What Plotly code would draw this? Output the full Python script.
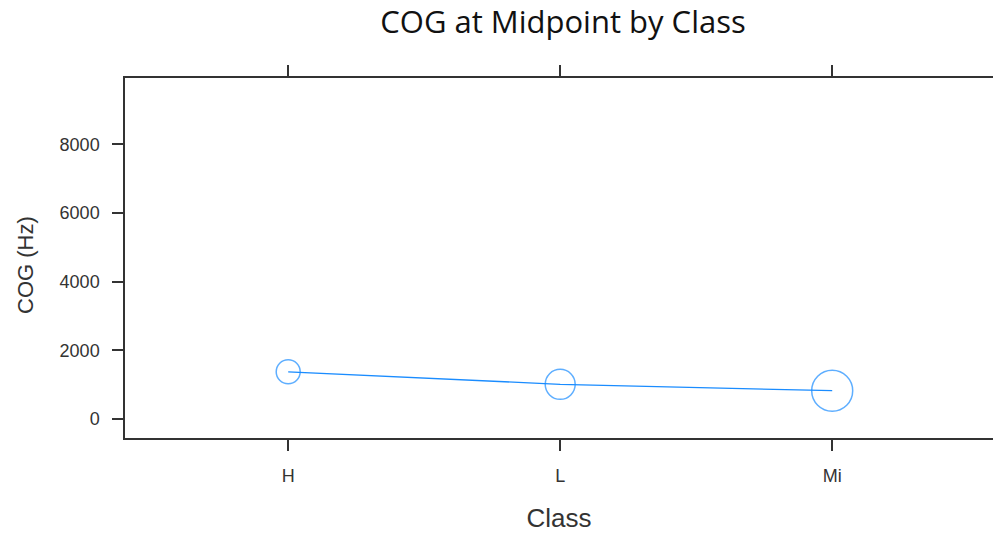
import plotly.graph_objects as go

# Mean centre of gravity (Hz) at vowel midpoint, per class
classes = ["H", "L", "Mi"]
cog_hz = [1375, 1010, 825]
marker_px = [24, 30, 41]

BLUE = "#1a8cff"
INK = "#333333"
W, H = 993, 533

fig = go.Figure()
fig.add_trace(go.Scatter(
    x=[1, 2, 3],
    y=cog_hz,
    mode="lines+markers",
    line=dict(color=BLUE, width=1.3),
    marker=dict(symbol="circle-open", size=marker_px,
                color=BLUE, line=dict(color=BLUE, width=1.5)),
    showlegend=False,
    hoverinfo="skip",
))

fig.update_layout(
    width=W, height=H,
    margin=dict(l=125, r=0, t=78, b=95, autoexpand=False),
    paper_bgcolor="white", plot_bgcolor="white",
    title=dict(text="COG at Midpoint by Class", x=563 / W,
               xanchor="center", y=1 - 22 / H, yanchor="middle",
               font=dict(family="Open Sans", size=31, color="#111111")),
    xaxis=dict(
        range=[0.4, 0.4 + 868 / 272],
        tickmode="array", tickvals=[1, 2, 3], ticktext=classes,
        showline=True, linecolor=INK, linewidth=1.5, mirror="ticks",
        ticks="outside", ticklen=11, tickwidth=1.5, tickcolor=INK,
        showgrid=False, zeroline=False,
        tickfont=dict(family="Liberation Sans", size=18, color=INK),
        ticklabelstandoff=10,
        title=dict(text="Class", standoff=26,
                   font=dict(family="Liberation Sans", size=26, color=INK)),
    ),
    yaxis=dict(
        range=[-553, 9930],
        tickmode="array", tickvals=[0, 2000, 4000, 6000, 8000],
        showline=True, linecolor=INK, linewidth=1.5, mirror=False,
        ticks="outside", ticklen=11, tickwidth=1.5, tickcolor=INK,
        showgrid=False, zeroline=False,
        tickfont=dict(family="Liberation Sans", size=18, color=INK),
        ticklabelstandoff=9,
    ),
    annotations=[dict(
        text="COG (Hz)", textangle=-90, showarrow=False,
        xref="paper", yref="paper",
        x=-(125 - 25) / 868, y=(438 - 265) / 360,
        xanchor="center", yanchor="middle",
        font=dict(family="Liberation Sans", size=22, color=INK),
    )],
)

fig.write_html("out.html")
